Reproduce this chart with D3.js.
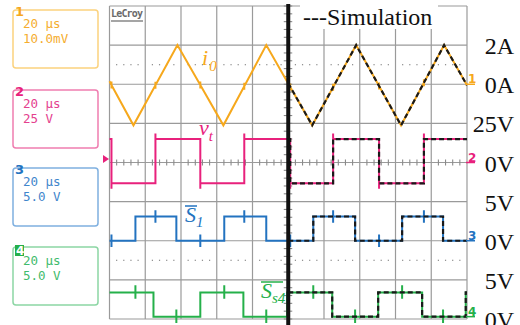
<!DOCTYPE html>
<html>
<head>
<meta charset="utf-8">
<script src="https://cdn.jsdelivr.net/npm/d3@7"></script>
<style>
  html, body { margin: 0; padding: 0; background: #fff; }
  svg { display: block; }
</style>
</head>
<body>
<svg id="chart" width="520" height="325"></svg>
<script>
// time base: 10 div x 20 us
const timeDomain = [0, 200];

// i0 (A), triangle corners
const i0Time = [0, 13.4, 38.0, 63.7, 87.7, 113.4, 138.0, 163.1, 187.2, 200];
const i0Amp = [0.15, -2.1, 2.0, -2.1, 2.0, -2.1, 2.0, -2.1, 2.0, -0.05];
// simulated i0 (right half only)
const i0SimTime = [100, 113.4, 138.0, 163.1, 187.2, 200];
const i0SimAmp = [0.05, -2.1, 2.0, -2.1, 2.0, -0.05];

// vt (V): switching instants, starts high
const vtEdges = [1.1, 25.7, 50.8, 75.4, 101.1, 125.1, 150.8, 175.9];
const vtLevels = [15, -13.3];
const vtSimEdges = [101.1, 125.1, 150.8, 175.9];

// gate signal S1 (V), starts low
const s1Edges = [14.5, 37.4, 64.2, 87.7, 114.0, 137.4, 163.7, 186.6];
const s1Levels = [3.1, 0];
const s1SimEdges = [114.0, 137.4, 163.7, 186.6];

// gate signal Ss4 (V), starts high
const s4Edges = [24.6, 50.8, 74.9, 99.4, 124.6, 150.3, 174.9, 199.3];
const s4Levels = [3.1, 0];
const s4SimEdges = [124.6, 150.3, 174.9, 199.3];

// right hand scale labels
const scaleLabels = ['2A', '0A', '25V', '0V', '5V', '0V', '5V', '0V'];
const boxTexts = [['20 μs', '10.0mV'], ['20 μs', '25 V'], ['20 μs', '5.0 V'], ['20 μs', '5.0 V']];

const colors = { i0: '#f6a81c', vt: '#e8217c', s1: '#2373c0', s4: '#25b04a' };
const boxColors = ['#fbd27e', '#ef7db0', '#7fb0e0', '#8cd6a4'];
const textColors = ['#f5ad2e', '#e4418e', '#3f86cc', '#3fbb6c'];

const svg = d3.select('#chart');
const gLeft = 109.5, gRight = 467, gTop = 6, gBottom = 319;

const x = d3.scaleLinear().domain(timeDomain).range([gLeft, gRight]);
const yDiv = d3.scaleLinear().domain([-4, 4]).range([gBottom, gTop]);

// channel offset (div) and volts/amps per div
const chan = {
  i0: { off: 2, per: 2 },
  vt: { off: 0, per: 25 },
  s1: { off: -2, per: 5 },
  s4: { off: -3.94, per: 5 }
};
const yOf = (c, v) => yDiv(chan[c].off + v / chan[c].per);

// ---- graticule
const grid = svg.append('g').attr('class', 'grid');
grid.selectAll('line.v').data(d3.range(0, 201, 20)).enter().append('line')
  .attr('x1', d => x(d)).attr('x2', d => x(d))
  .attr('y1', gTop).attr('y2', gBottom)
  .attr('stroke', '#9a9a9a').attr('stroke-width', 1.2);
grid.selectAll('line.h').data(d3.range(-4, 5)).enter().append('line')
  .attr('x1', gLeft).attr('x2', gRight)
  .attr('y1', d => yDiv(d)).attr('y2', d => yDiv(d))
  .attr('stroke', '#9a9a9a').attr('stroke-width', 1.2);

// dotted half-division lines
[2.5, -2.5].forEach(dv => {
  grid.selectAll(null).data(d3.range(0, 200, 4).filter(t => t % 20 !== 0)).enter().append('rect')
    .attr('x', d => x(d) - 0.6).attr('y', yDiv(dv) - 0.6)
    .attr('width', 1.2).attr('height', 1.2).attr('fill', '#8a8a8a');
});

// minor ticks on the centre axes
grid.selectAll('line.tx').data(d3.range(0, 201, 4).filter(t => t % 20 !== 0)).enter().append('line')
  .attr('x1', d => x(d)).attr('x2', d => x(d))
  .attr('y1', yDiv(0) - 3).attr('y2', yDiv(0) + 3)
  .attr('stroke', '#8a8a8a').attr('stroke-width', 1.1);
grid.selectAll('line.ty').data(d3.range(-4, 4.01, 0.2)).enter().append('line')
  .attr('x1', x(100) - 4.5).attr('x2', x(100) + 4)
  .attr('y1', d => yDiv(d)).attr('y2', d => yDiv(d))
  .attr('stroke', '#8a8a8a').attr('stroke-width', 1.1);

// LeCroy logo
svg.append('text').attr('x', 111).attr('y', 17)
  .attr('font-family', 'DejaVu Sans Mono').attr('font-size', 10).attr('font-weight', 'bold')
  .attr('textLength', 32).attr('fill', '#6a6a6a').text('LeCroy');
svg.append('line').attr('x1', 111).attr('x2', 143).attr('y1', 21).attr('y2', 21)
  .attr('stroke', '#6a6a6a').attr('stroke-width', 1.2);

// ---- helpers for traces
function squarePts(edges, startHigh, levels, t0, t1, over) {
  const pts = [];
  let high = startHigh;
  pts.push([t0, high ? levels[0] : levels[1]]);
  edges.forEach(te => {
    const from = high ? levels[0] : levels[1];
    const to = high ? levels[1] : levels[0];
    pts.push([te, from]);
    if (over) pts.push([te, to + (to > from ? over : -over)]);
    pts.push([te, to]);
    high = !high;
  });
  pts.push([t1, high ? levels[0] : levels[1]]);
  return pts;
}
function valueAt(pts, t) {
  for (let i = 0; i < pts.length - 1; i++) {
    const a = pts[i], b = pts[i + 1];
    if (t >= a[0] && t <= b[0] && b[0] > a[0]) return a[1] + (b[1] - a[1]) * (t - a[0]) / (b[0] - a[0]);
  }
  return pts[pts.length - 1][1];
}
function withSpikes(pts, times, up, down) {
  const out = pts.slice();
  times.forEach(ts => {
    const v = valueAt(out, ts);
    let idx = out.findIndex(p => p[0] > ts);
    if (idx < 0) idx = out.length;
    out.splice(idx, 0, [ts, v], [ts, v + up], [ts, v - down], [ts, v]);
  });
  return out;
}
function drawTrace(c, pts, dashed) {
  const line = d3.line().x(d => x(d[0])).y(d => yOf(c, d[1]));
  svg.append('path').datum(pts)
    .attr('d', line)
    .attr('fill', 'none')
    .attr('stroke', dashed ? '#1a1a1a' : colors[c])
    .attr('stroke-width', dashed ? 2.2 : 2)
    .attr('stroke-dasharray', dashed ? '5,3' : null)
    .attr('stroke-linejoin', 'miter');
}

// ---- measured traces
const i0Pts = withSpikes(d3.zip(i0Time, i0Amp), vtEdges, 0.18, 0.18);
drawTrace('i0', i0Pts);
drawTrace('vt', squarePts(vtEdges, true, vtLevels, 0, 200, 3.5));
drawTrace('s1', withSpikes(squarePts(s1Edges, false, s1Levels, 0, 200, 0), vtEdges, 0.8, 0.8));
drawTrace('s4', withSpikes(squarePts(s4Edges, true, s4Levels, 0, 200, 0), s1Edges, 0.9, 0.8));

// ---- simulation (dashed, right half)
drawTrace('i0', d3.zip(i0SimTime, i0SimAmp), true);
drawTrace('vt', squarePts(vtSimEdges, true, vtLevels, 100, 200, 0), true);
drawTrace('s1', squarePts(s1SimEdges, false, s1Levels, 100, 200, 0), true);
drawTrace('s4', squarePts(s4SimEdges, true, s4Levels, 100, 200, 0), true);

// centre divider between measurement and simulation
svg.append('line').attr('x1', x(100)).attr('x2', x(100)).attr('y1', 4).attr('y2', 325)
  .attr('stroke', '#111').attr('stroke-width', 4);

// trigger marker
svg.append('path').attr('d', 'M103,155L109,159L103,163Z').attr('fill', colors.vt);

// right side channel ground markers
[['i0', '1'], ['vt', '2'], ['s1', '3'], ['s4', '4']].forEach(([c, n]) => {
  const y0 = yOf(c, 0);
  svg.append('text').attr('x', 468).attr('y', y0 - 1)
    .attr('font-family', 'DejaVu Sans').attr('font-size', 12).attr('font-weight', 'bold')
    .attr('fill', colors[c]).text(n);
  svg.append('line').attr('x1', 466).attr('x2', 475).attr('y1', y0).attr('y2', y0)
    .attr('stroke', colors[c]).attr('stroke-width', 1.5);
});

// scale labels at right
svg.selectAll('text.scale').data(scaleLabels).enter().append('text')
  .attr('x', 514).attr('y', (d, k) => yDiv(3 - k) + 9)
  .attr('text-anchor', 'end')
  .attr('font-family', 'Liberation Serif').attr('font-size', 24)
  .attr('fill', '#111').text(d => d);

// legend
svg.append('rect').attr('x', 300).attr('y', 3).attr('width', 138).attr('height', 26).attr('fill', '#fff');
svg.append('text').attr('x', 303).attr('y', 25)
  .attr('font-family', 'Liberation Serif').attr('font-size', 24)
  .attr('fill', '#111').text('---Simulation');

// channel names on the plot
function chanLabel(c, xx, yy, main, sub, subDx, subDy, barW) {
  const t = svg.append('text').attr('x', xx).attr('y', yy)
    .attr('font-family', 'Liberation Serif').attr('font-style', 'italic')
    .attr('font-size', 22).attr('fill', colors[c]);
  t.append('tspan').text(main);
  t.append('tspan').attr('dx', subDx).attr('dy', subDy).attr('font-size', 15).text(sub);
  if (barW) {
    svg.append('line').attr('x1', xx).attr('x2', xx + barW).attr('y1', yy - 16).attr('y2', yy - 16)
      .attr('stroke', colors[c]).attr('stroke-width', 1.5);
  }
}
chanLabel('i0', 202, 65, 'i', '0', 1, 6);
chanLabel('vt', 199, 135, 'v', 't', 0, 6);
chanLabel('s1', 185, 222, 'S', '1', 0, 5, 12);
chanLabel('s4', 261, 298, 'S', 's4', 0, 5, 22);

// left info boxes
const boxTop = [10, 90, 168, 247];
boxTop.forEach((by, k) => {
  svg.append('rect').attr('x', 13).attr('y', by).attr('width', 85).attr('height', 58)
    .attr('rx', 3).attr('fill', 'none').attr('stroke', boxColors[k]).attr('stroke-width', 1.5);
  boxTexts[k].forEach((s, j) => {
    svg.append('text').attr('x', 23).attr('y', by + 18 + j * 15)
      .attr('font-family', 'DejaVu Sans Mono').attr('font-size', 12.5)
      .attr('fill', textColors[k]).text(s);
  });
  if (k === 3) {
    svg.append('rect').attr('x', 15).attr('y', by - 2).attr('width', 9).attr('height', 11)
      .attr('fill', colors.s4);
    svg.append('text').attr('x', 16).attr('y', by + 8)
      .attr('font-family', 'DejaVu Sans').attr('font-size', 12).attr('font-weight', 'bold')
      .attr('fill', '#fff').text('4');
  } else {
    svg.append('text').attr('x', 15).attr('y', by + 6)
      .attr('font-family', 'DejaVu Sans').attr('font-size', 13).attr('font-weight', 'bold')
      .attr('fill', [colors.i0, colors.vt, colors.s1][k]).text(String(k + 1));
  }
});
</script>
</body>
</html>
